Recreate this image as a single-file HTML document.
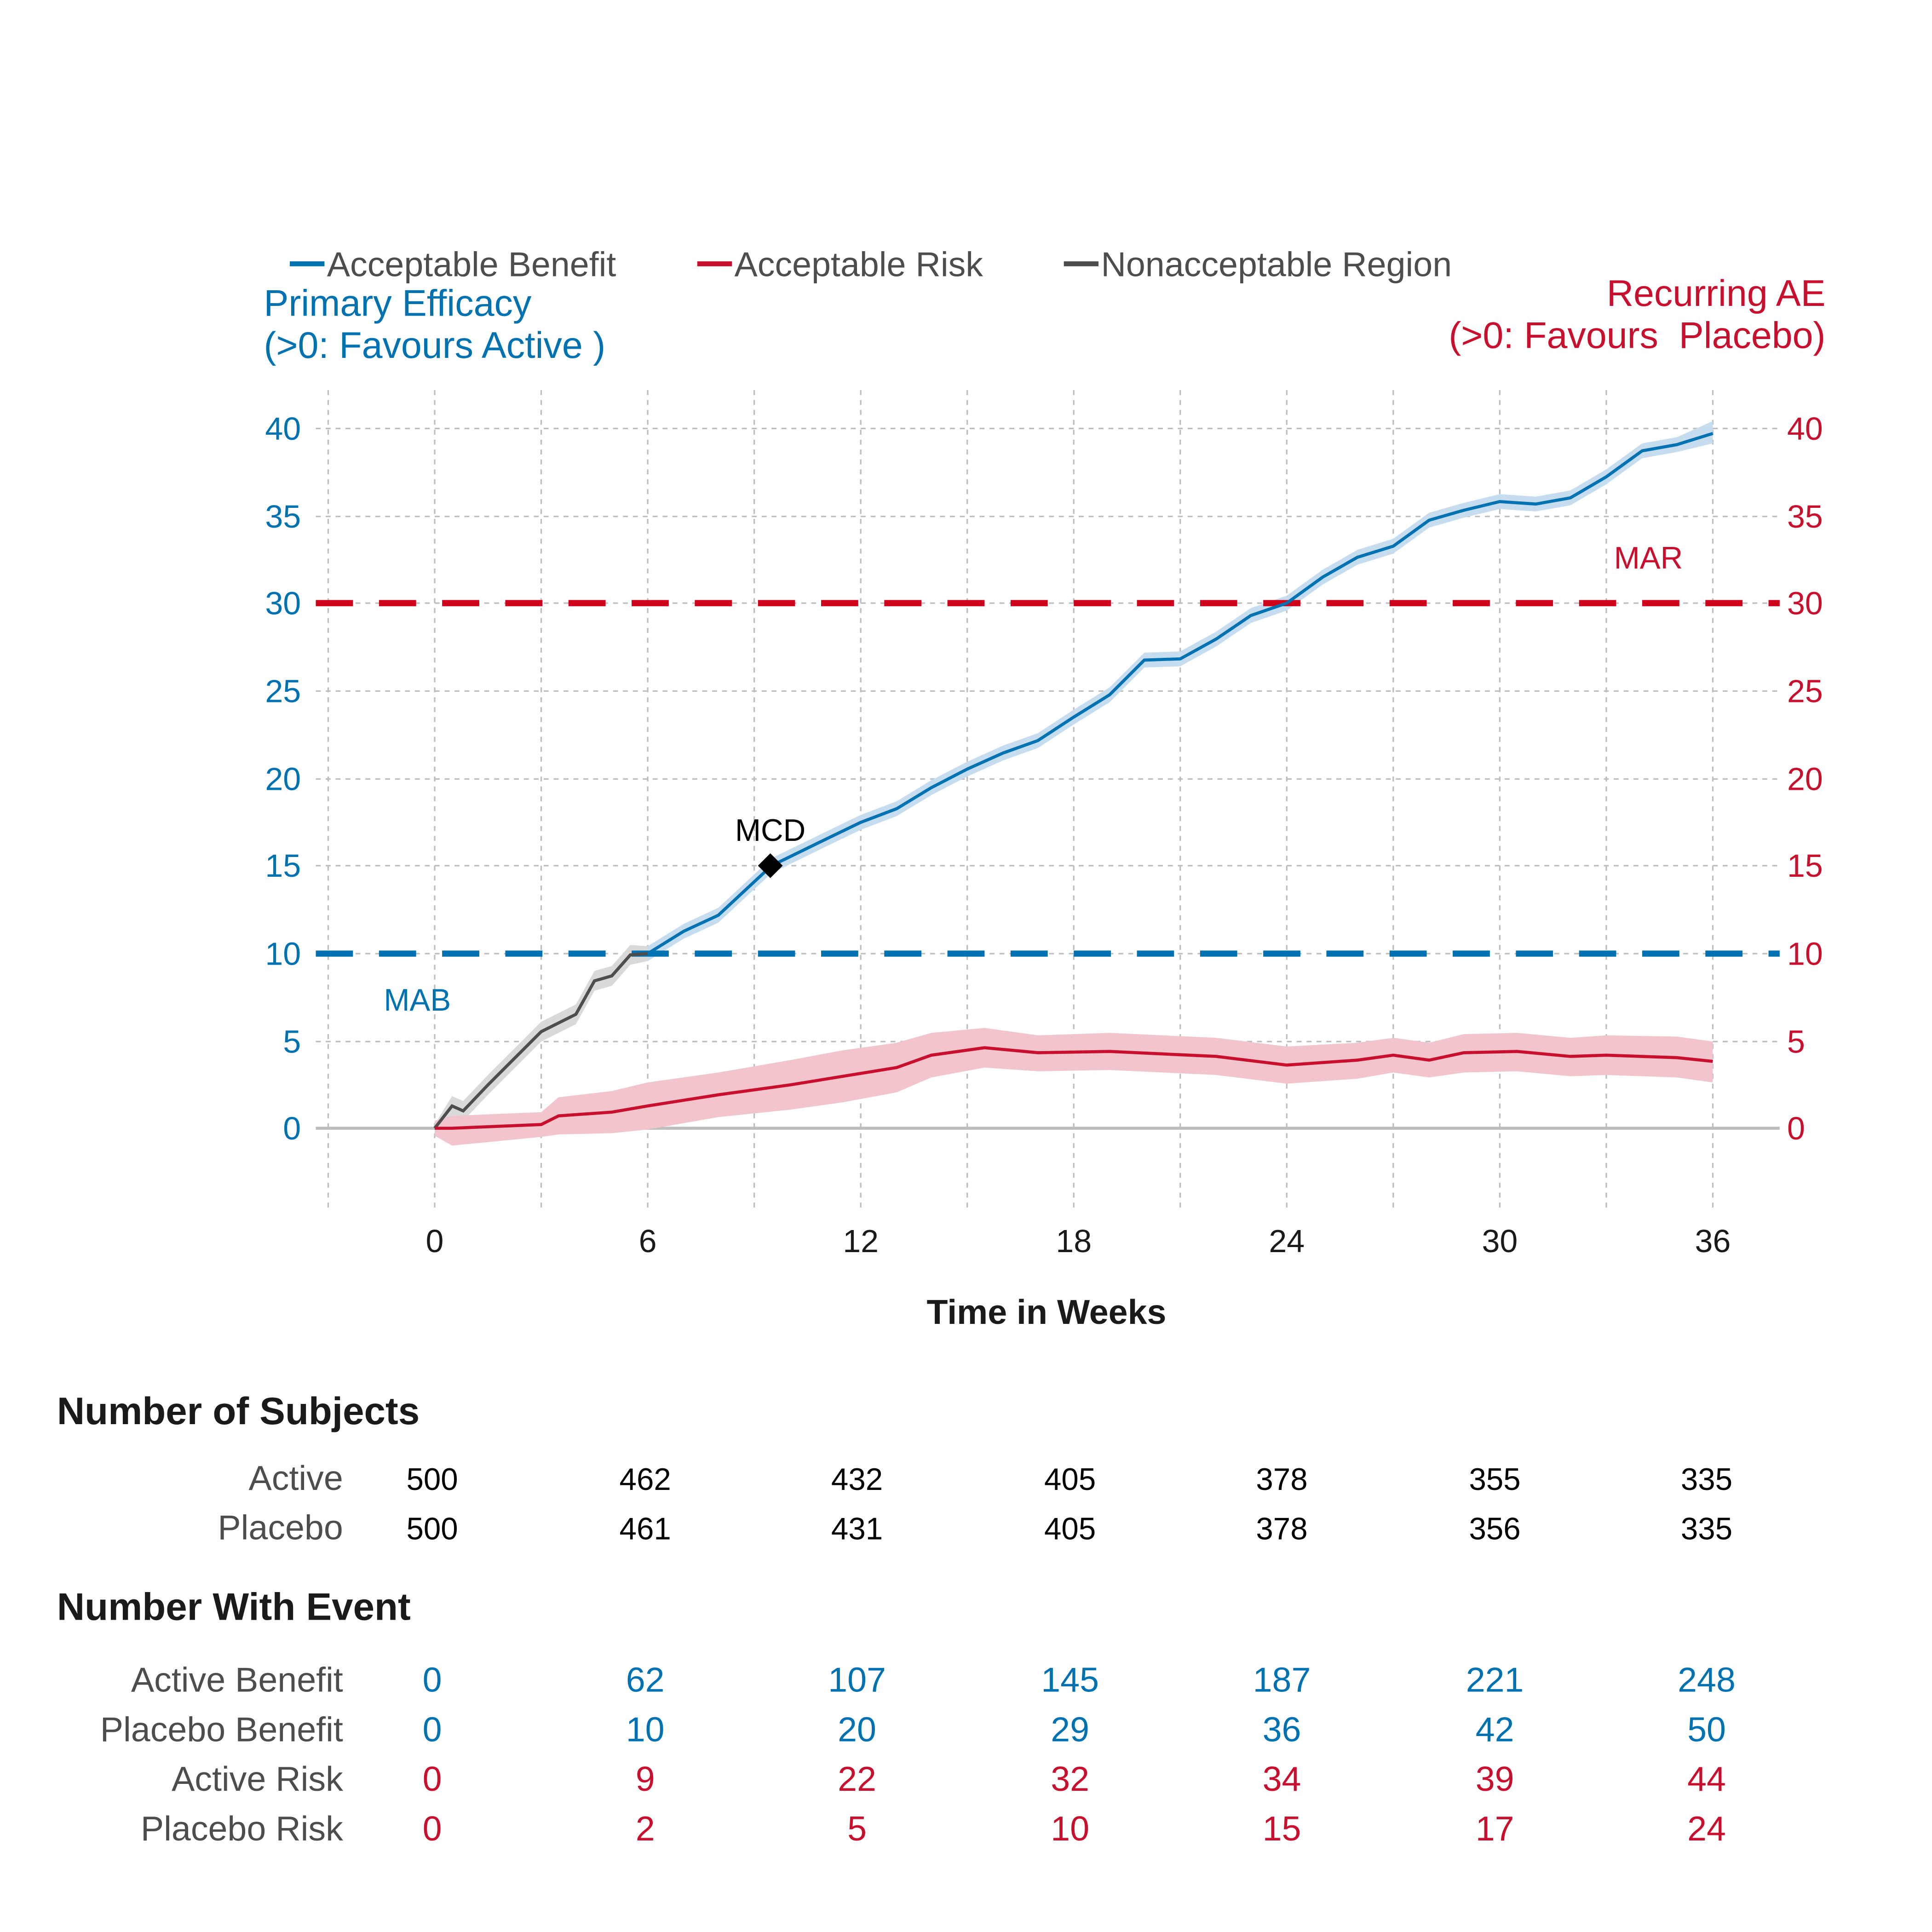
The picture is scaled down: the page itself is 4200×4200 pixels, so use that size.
<!DOCTYPE html>
<html><head><meta charset="utf-8"><style>html,body{margin:0;padding:0;background:#fff}svg{display:block}</style></head>
<body>
<svg width="4200" height="4200" viewBox="0 0 1560 1560" xmlns="http://www.w3.org/2000/svg" font-family="Liberation Sans, sans-serif">
<rect width="1560" height="1560" fill="#fff"/>
<g stroke="#bdbdbd" stroke-width="1.2" stroke-dasharray="4,4" fill="none">
<path d="M265 315V975M351 315V975M437 315V975M523 315V975M609 315V975M695 315V975M781 315V975M867 315V975M953 315V975M1039 315V975M1125 315V975M1211 315V975M1297 315V975M1383 315V975"/>
<path d="M255 346H1437M255 417H1437M255 487H1437M255 558H1437M255 629H1437M255 699H1437M255 770H1437M255 841H1437"/>
</g>
<line x1="255" y1="911" x2="1437" y2="911" stroke="#bdbdbd" stroke-width="2.5"/>
<polygon fill="#c6dcef" points="523,764 552,746 580,733 623,693 666,672 695,658 724,647 752,630 781,615 810,602 838,592 867,573 896,555 924,527 953,526 982,510 1010,491 1039,481 1068,460 1096,444 1125,435 1154,414 1182,406 1211,399 1240,401 1268,396 1297,379 1326,358 1354,353 1383,340 1383,358 1354,365 1326,370 1297,391 1268,408 1240,413 1211,411 1182,418 1154,426 1125,447 1096,456 1068,472 1039,493 1010,503 982,522 953,538 924,539 896,567 867,585 838,604 810,614 781,627 752,642 724,659 695,670 666,684 623,705 580,745 552,758 523,776"/>
<polygon fill="#d9d9d9" points="351,908 365,885 374,889 394,868 408,854 437,825 465,811 480,784 494,780 509,763 523,764 523,776 509,779 494,796 480,800 465,827 437,841 408,870 394,884 374,905 365,901 351,914"/>
<polygon fill="#f2c4cc" points="351,905 365,901 437,898 451,886 494,881 523,874 580,866 638,856 681,848 724,842 752,834 795,830 838,836 896,834 982,838 1039,845 1096,842 1125,838 1154,842 1182,835 1225,834 1268,838 1297,836 1354,837 1383,841 1383,874 1354,870 1297,868 1268,869 1225,865 1182,866 1154,870 1125,866 1096,871 1039,875 982,868 896,864 838,865 795,862 752,870 724,882 681,890 638,896 580,902 523,912 494,915 451,916 437,918 365,925 351,917"/>
<line x1="255" y1="770" x2="1437" y2="770" stroke="#0072b2" stroke-width="5" stroke-dasharray="30,21"/>
<line x1="255" y1="487" x2="1437" y2="487" stroke="#d0021b" stroke-width="5" stroke-dasharray="30,21"/>
<polyline fill="none" stroke="#0072b2" stroke-width="2.5" points="523,770 552,752 580,739 623,699 666,678 695,664 724,653 752,636 781,621 810,608 838,598 867,579 896,561 924,533 953,532 982,516 1010,497 1039,487 1068,466 1096,450 1125,441 1154,420 1182,412 1211,405 1240,407 1268,402 1297,385 1326,364 1354,359 1383,350"/>
<polyline fill="none" stroke="#4d4d4d" stroke-width="2.5" points="351,911 365,893 374,897 394,876 408,862 437,833 465,819 480,792 494,788 509,771 523,770"/>
<polyline fill="none" stroke="#c8102e" stroke-width="2.5" points="351,911 365,911 437,908 451,901 494,898 523,893 580,884 638,876 681,869 724,862 752,852 795,846 838,850 896,849 982,853 1039,860 1096,856 1125,852 1154,856 1182,850 1225,849 1268,853 1297,852 1354,854 1383,857"/>
<polygon points="622,689 632,699 622,709 612,699" fill="#000"/>
<text x="622" y="679" font-size="25" text-anchor="middle" fill="#000">MCD</text>
<text x="337" y="816" font-size="25" text-anchor="middle" fill="#0072b2">MAB</text>
<text x="1331" y="459" font-size="25" text-anchor="middle" fill="#c8102e">MAR</text>
<g font-size="26" fill="#0072b2" text-anchor="end">
<text x="243" y="355">40</text><text x="243" y="426">35</text><text x="243" y="496">30</text><text x="243" y="567">25</text><text x="243" y="638">20</text><text x="243" y="708">15</text><text x="243" y="779">10</text><text x="243" y="850">5</text><text x="243" y="920">0</text>
</g>
<g font-size="26" fill="#c8102e">
<text x="1443" y="355">40</text><text x="1443" y="426">35</text><text x="1443" y="496">30</text><text x="1443" y="567">25</text><text x="1443" y="638">20</text><text x="1443" y="708">15</text><text x="1443" y="779">10</text><text x="1443" y="850">5</text><text x="1443" y="920">0</text>
</g>
<g font-size="26" fill="#1a1a1a" text-anchor="middle">
<text x="351" y="1011">0</text><text x="523" y="1011">6</text><text x="695" y="1011">12</text><text x="867" y="1011">18</text><text x="1039" y="1011">24</text><text x="1211" y="1011">30</text><text x="1383" y="1011">36</text>
</g>
<text x="845" y="1069" font-size="28" font-weight="bold" text-anchor="middle" fill="#1a1a1a">Time in Weeks</text>
<g font-size="28" fill="#4d4d4d">
<line x1="234" y1="213" x2="262" y2="213" stroke="#0072b2" stroke-width="4"/><text x="264" y="223">Acceptable Benefit</text>
<line x1="563" y1="213" x2="591" y2="213" stroke="#c8102e" stroke-width="4"/><text x="593" y="223">Acceptable Risk</text>
<line x1="859" y1="213" x2="887" y2="213" stroke="#4d4d4d" stroke-width="4"/><text x="889" y="223">Nonacceptable Region</text>
</g>
<text x="213" y="255" font-size="30" fill="#0072b2">Primary Efficacy</text>
<text x="213" y="289" font-size="30" fill="#0072b2">(&gt;0: Favours Active )</text>
<text x="1474" y="247" font-size="30" fill="#c8102e" text-anchor="end">Recurring AE</text>
<text x="1474" y="281" font-size="30" fill="#c8102e" text-anchor="end" xml:space="preserve">(&gt;0: Favours  Placebo)</text>
<text x="46" y="1150" font-size="31" font-weight="bold" fill="#1a1a1a">Number of Subjects</text>
<text x="46" y="1308" font-size="31" font-weight="bold" fill="#1a1a1a">Number With Event</text>
<g font-size="28" fill="#4d4d4d" text-anchor="end">
<text x="277" y="1203">Active</text><text x="277" y="1243">Placebo</text>
<text x="277" y="1366">Active Benefit</text><text x="277" y="1406">Placebo Benefit</text><text x="277" y="1446">Active Risk</text><text x="277" y="1486">Placebo Risk</text>
</g>
<g text-anchor="middle">
<g fill="#000" font-size="25">
<text x="349" y="1203">500</text><text x="521" y="1203">462</text><text x="692" y="1203">432</text><text x="864" y="1203">405</text><text x="1035" y="1203">378</text><text x="1207" y="1203">355</text><text x="1378" y="1203">335</text>
<text x="349" y="1243">500</text><text x="521" y="1243">461</text><text x="692" y="1243">431</text><text x="864" y="1243">405</text><text x="1035" y="1243">378</text><text x="1207" y="1243">356</text><text x="1378" y="1243">335</text>
</g>
<g fill="#0072b2" font-size="28">
<text x="349" y="1366">0</text><text x="521" y="1366">62</text><text x="692" y="1366">107</text><text x="864" y="1366">145</text><text x="1035" y="1366">187</text><text x="1207" y="1366">221</text><text x="1378" y="1366">248</text>
<text x="349" y="1406">0</text><text x="521" y="1406">10</text><text x="692" y="1406">20</text><text x="864" y="1406">29</text><text x="1035" y="1406">36</text><text x="1207" y="1406">42</text><text x="1378" y="1406">50</text>
</g>
<g fill="#c8102e" font-size="28">
<text x="349" y="1446">0</text><text x="521" y="1446">9</text><text x="692" y="1446">22</text><text x="864" y="1446">32</text><text x="1035" y="1446">34</text><text x="1207" y="1446">39</text><text x="1378" y="1446">44</text>
<text x="349" y="1486">0</text><text x="521" y="1486">2</text><text x="692" y="1486">5</text><text x="864" y="1486">10</text><text x="1035" y="1486">15</text><text x="1207" y="1486">17</text><text x="1378" y="1486">24</text>
</g>
</g>
</svg>
</body></html>
